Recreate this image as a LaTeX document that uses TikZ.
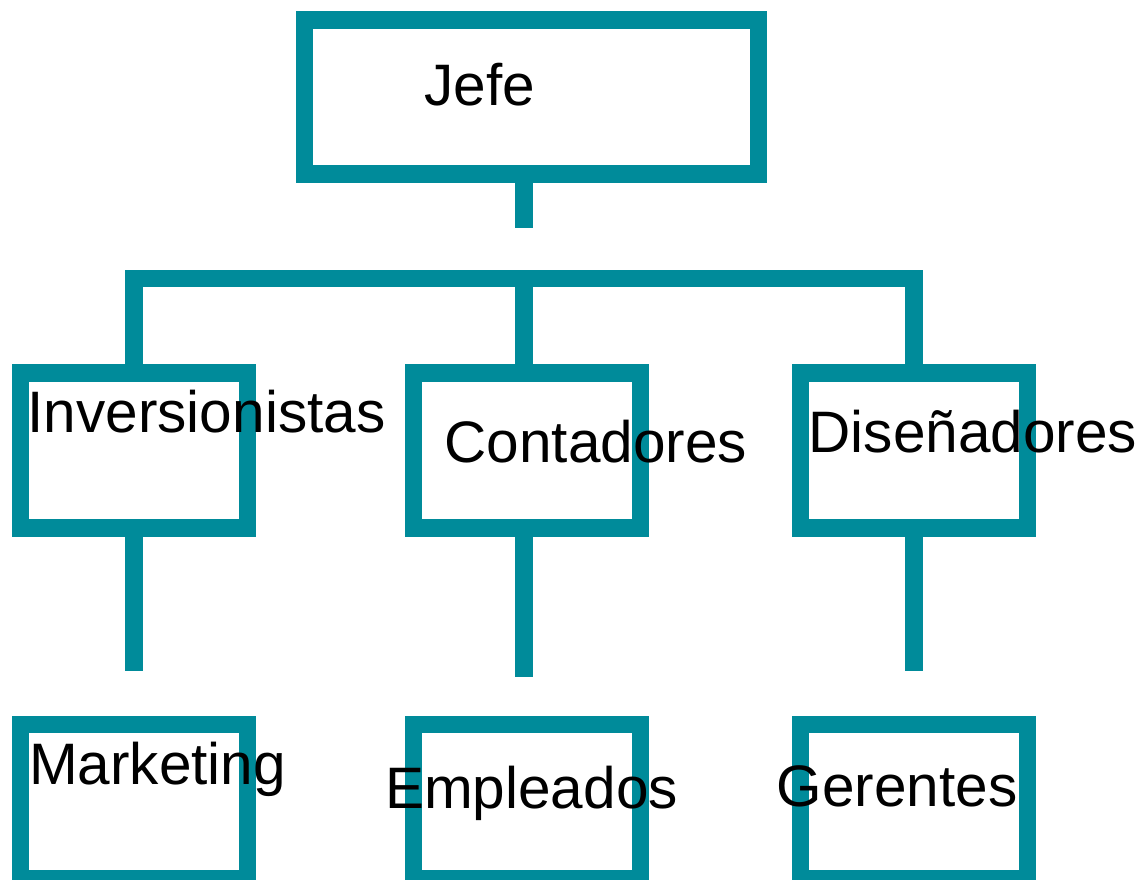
\documentclass[tikz,border=0pt]{standalone}
\usepackage{fontspec}
\setmainfont{Liberation Sans}
\usetikzlibrary{positioning}
\definecolor{orgteal}{HTML}{008B9A}

\tikzset{
  box/.style={draw=orgteal, line width=17.5pt, inner sep=0pt, minimum width=227pt, minimum height=155pt},
  link/.style={draw=orgteal, line width=17.5pt},
  lbl/.style={anchor=base west, inner sep=0pt, font=\fontsize{58.5}{70}\selectfont}
}

\begin{document}
\begin{tikzpicture}[x=1pt,y=-1pt]
\useasboundingbox (0,0) rectangle (1147,879);

%the boxes
\node [box, minimum width=454pt, minimum height=154pt] (jefe) at (531.5,97) {};
\node [box] (inv) at (134,450.5) {};
\node [box] (cont) at (527,450.5) {};
\node [box] (dis) at (914,450.5) {};
\node [box, minimum height=154.2pt] (mark) at (134,801.6) {};
\node [box, minimum height=154.2pt] (emp) at (527,801.6) {};
\node [box, minimum height=154.2pt] (ger) at (914,801.6) {};

%the links
\coordinate (top) at (524,228);
\coordinate (barL) at (134,278.5);
\coordinate (barM) at (524,278.5);
\coordinate (barR) at (914,278.5);
\coordinate (endL) at (134,671);
\coordinate (endM) at (524,677);
\coordinate (endR) at (914,671);

\draw [link] (jefe.south -| top) -- (top);
\draw [link] (inv.north) -- (barL) -- (barR) -- (dis.north);
\draw [link] (barM) -- (cont.north -| barM);
\draw [link] (inv.south) -- (endL);
\draw [link] (cont.south -| endM) -- (endM);
\draw [link] (dis.south) -- (endR);

%the names
\node [lbl] (tjefe) at (424.5,105) {Jefe};
\node [lbl] (tinv) at (27.5,432) {Inversionistas};
\node [lbl] (tcont) at (444.5,462) {Contadores};
\node [lbl] (tdis) at (808.5,452) {Diseñadores};
\node [lbl] (tmark) at (29,784) {Marketing};
\node [lbl] (temp) at (385,808) {Empleados};
\node [lbl] (tger) at (776.5,806) {Gerentes};
\end{tikzpicture}
\end{document}
